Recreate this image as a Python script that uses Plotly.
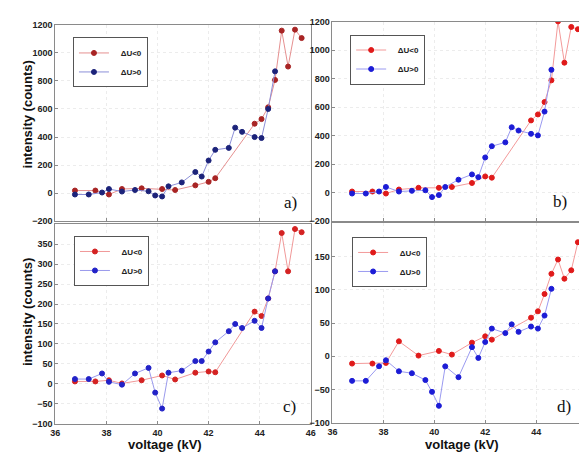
"""Four-panel intensity vs. voltage chart (dU<0 / dU>0)."""
import plotly.graph_objects as go

# voltage grids (kV)
V_DOWN = [36.77, 37.57, 38.10, 38.61, 39.38, 40.18, 40.69, 41.48, 42.00, 42.26,
          43.80, 44.07, 44.33, 44.60, 44.86, 45.11, 45.38, 45.64]
V_UP = [36.77, 37.31, 37.83, 38.10, 38.61, 39.12, 39.65, 39.91, 40.18, 40.43, 40.95,
        41.48, 41.73, 42.00, 42.26, 42.79, 43.04, 43.31, 43.80, 44.07, 44.33, 44.60]

# panel a)
A_DOWN = [19, 19, -9, 30, 35, 30, 23, 56, 81, 107, 495, 528, 612, 807, 1158, 902, 1165, 1105]
A_UP = [-9, -9, 5, 30, 12, 23, 14, -16, -23, 49, 77, 151, 119, 233, 309, 323, 467, 437,
        400, 393, 600, 868]
# panel b)
B_DOWN = [9, 9, -5, 23, 35, 35, 41, 69, 115, 106, 508, 550, 637, 789, 1203, 913, 1164, 1148]
B_UP = [-5, -5, 9, 41, 9, 14, 18, -30, -16, 41, 92, 129, 110, 248, 327, 354, 460, 437,
        414, 403, 570, 863]
# panel c)
C_DOWN = [6, 6, 9, 1, 9, 21, 11, 28, 31, 29, 181, 170, 214, 282, 378, 282, 388, 380]
C_UP = [12, 12, 26, 5, -2, 26, 40, -22, -62, 28, 33, 57, 57, 81, 104, 132, 150, 140,
        158, 140, 214, 282]
# panel d)
D_DOWN = [-11, -11, -10, 22.5, 1, 8, 2.5, 20.5, 30, 25, 58, 67.6, 93.6, 124, 145.5,
          116.6, 129.3, 171.5]
D_UP = [-37, -37, -15, -6, -22.6, -25.5, -35.8, -53.5, -74.5, -15.2, -31.4, 13.7, -2.5,
        21.5, 41.6, 34.8, 48, 36.7, 44.6, 41.6, 61.2, 101.4]

X_TICKS = [36, 38, 40, 42, 44, 46]
TICKS_AB = [-200, 0, 200, 400, 600, 800, 1000, 1200]
TICKS_C = [-100, -50, 0, 50, 100, 150, 200, 250, 300, 350]
TICKS_D = [-100, -50, 0, 50, 100, 150]

W, H = 587, 454


def px(x):
    return x / W


def py(y):
    return 1 - y / H


panels = [
    # label, down, up, x pixels, y pixels (bottom, top), y range, y ticks,
    # colours (down marker, down line, up marker, up line), legend corner, show x labels,
    # panel-label centre
    ("a)", A_DOWN, A_UP, (43, 303), (213, 12), (-200, 1200), TICKS_AB,
     ("#a82424", "#e59090", "#1c237a", "#8c8fd8"), (61, 25), False, (282, 194)),
    ("b)", B_DOWN, B_UP, (325, 584), (213, 9), (-200, 1200), TICKS_AB,
     ("#e01a1a", "#f39a9a", "#1c1cd6", "#9a9af0"), (343, 22), False, (556, 193)),
    ("c)", C_DOWN, C_UP, (43, 303), (420, 216), (-100, 400), TICKS_C,
     ("#d42222", "#f09898", "#2222c8", "#9a9aec"), (62, 228), True, (281, 402)),
    ("d)", D_DOWN, D_UP, (325, 584), (419, 215), (-100, 200), TICKS_D,
     ("#e01a1a", "#f39a9a", "#1c1cd6", "#9a9af0"), (345, 229), True, (561, 402)),
]

fig = go.Figure()
tick_font = dict(family="Liberation Sans, Arial", size=9, color="#222", weight="bold")

for i, (label, down, up, xdom, ydom, yrng, yticks, cols, leg, bottom, lab) in enumerate(panels, start=1):
    suffix = "" if i == 1 else str(i)
    legend_id = "legend" if i == 1 else f"legend{i}"
    for name, xs, ys, mc, lc in [("ΔU<0", V_DOWN, down, cols[0], cols[1]),
                                 ("ΔU>0", V_UP, up, cols[2], cols[3])]:
        fig.add_trace(go.Scatter(
            x=xs, y=ys, mode="lines+markers",
            name="&nbsp;" * 3 + name,
            line=dict(color=lc, width=1),
            marker=dict(symbol="circle", size=5, color=mc,
                        line=dict(color=mc, width=1)),
            xaxis="x" + suffix, yaxis="y" + suffix,
            legend=legend_id,
        ))

    axis_common = dict(showline=True, mirror=True, linecolor="#8a8a8a", linewidth=1,
                       ticks="inside", ticklen=3, tickcolor="#8a8a8a",
                       showgrid=True, gridcolor="#ececec", griddash="dot",
                       zeroline=False, tickfont=tick_font)
    fig.layout["xaxis" + suffix] = dict(
        axis_common, domain=[px(xdom[0]), px(xdom[1])], range=[36, 46],
        tickvals=X_TICKS, showticklabels=bottom, anchor="y" + suffix)
    fig.layout["yaxis" + suffix] = dict(
        axis_common, domain=[py(ydom[0]), py(ydom[1])], range=list(yrng),
        tickvals=yticks, anchor="x" + suffix)
    fig.layout[legend_id] = dict(
        x=px(leg[0]), y=py(leg[1]), xanchor="left", yanchor="top",
        bgcolor="white", bordercolor="#555", borderwidth=1,
        font=dict(family="Liberation Sans, Arial", size=8, color="#222", weight="bold"),
        itemwidth=30, tracegroupgap=0)

    fig.add_annotation(x=px(lab[0]), y=py(lab[1]), xref="paper", yref="paper",
                       xanchor="center", yanchor="middle",
                       text=label, showarrow=False,
                       font=dict(family="Liberation Serif, Times New Roman", size=17, color="#111"))

axis_title_font = dict(family="Liberation Sans, Arial", size=13, color="#111", weight="bold")
for yc in (104, 306):
    fig.add_annotation(x=px(15), y=py(yc), xref="paper", yref="paper",
                       xanchor="center", yanchor="middle",
                       text="intensity (counts)", textangle=-90, showarrow=False,
                       font=axis_title_font)
for xc in (155, 457):
    fig.add_annotation(x=px(xc), y=py(441), xref="paper", yref="paper",
                       xanchor="center", yanchor="middle",
                       text="voltage (kV)", showarrow=False,
                       font=dict(axis_title_font, size=13))

fig.update_layout(
    width=W, height=H,
    margin=dict(l=0, r=0, t=0, b=0),
    paper_bgcolor="white", plot_bgcolor="white",
    showlegend=True,
)

fig.write_html("out.html")
